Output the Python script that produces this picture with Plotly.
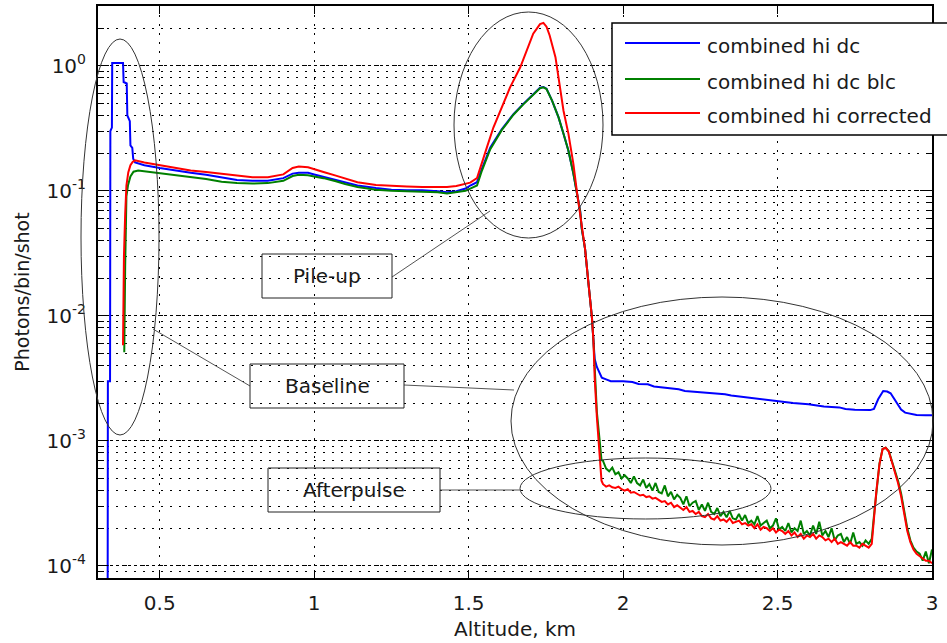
import plotly.graph_objects as go

# ---------------- data ----------------
blue_x = [0.331, 0.332, 0.339, 0.340, 0.345, 0.346, 0.381, 0.383, 0.393, 0.395, 0.403, 0.405,
          0.411, 0.414, 0.42, 0.45, 0.5, 0.55, 0.6, 0.65, 0.7, 0.75, 0.8, 0.85, 0.9, 0.93, 0.95,
          0.98, 1.0, 1.03, 1.07, 1.1, 1.14, 1.2, 1.25, 1.3, 1.35, 1.4, 1.43, 1.46, 1.49, 1.505,
          1.527, 1.543, 1.57, 1.607, 1.645, 1.677, 1.709, 1.731, 1.742, 1.752, 1.77, 1.791, 1.807,
          1.823, 1.839, 1.85, 1.861, 1.866, 1.877, 1.888, 1.899, 1.904, 1.908, 1.915, 1.922, 1.931,
          1.945, 1.96, 2.0, 2.03, 2.05, 2.08, 2.1, 2.15, 2.18, 2.2, 2.25, 2.3, 2.33, 2.35, 2.4, 2.45,
          2.48, 2.5, 2.55, 2.6, 2.62, 2.65, 2.7, 2.72, 2.75, 2.8, 2.812, 2.826, 2.842, 2.855, 2.866,
          2.886, 2.9, 2.913, 2.95, 2.98, 3.0]
blue_y = [1e-5, 3.0e-3, 3.0e-3, 0.30, 0.32, 1.05, 1.05, 0.74, 0.72, 0.40, 0.36, 0.23,
          0.22, 0.18, 0.168, 0.16, 0.152, 0.145, 0.139, 0.134, 0.127, 0.122, 0.12, 0.12, 0.126,
          0.137, 0.139, 0.139, 0.135, 0.129, 0.122, 0.116, 0.11, 0.105, 0.102, 0.101, 0.101, 0.099,
          0.097, 0.099, 0.104, 0.11, 0.117, 0.15, 0.222, 0.31, 0.41, 0.495, 0.59, 0.667, 0.675,
          0.655, 0.525, 0.386, 0.285, 0.209, 0.137, 0.1, 0.069, 0.05, 0.034, 0.018, 0.0097, 0.0063,
          0.0045, 0.0039, 0.0036, 0.0032, 0.0031, 0.003, 0.003, 0.00295, 0.00285, 0.00283, 0.00272,
          0.00262, 0.00258, 0.0025, 0.00245, 0.00238, 0.00236, 0.0023, 0.00222, 0.00214, 0.00212,
          0.00208, 0.00201, 0.00196, 0.00192, 0.00188, 0.00185, 0.00180, 0.00177, 0.00176, 0.0018,
          0.00216, 0.0025, 0.00248, 0.0024, 0.002, 0.00178, 0.00168, 0.00161, 0.0016, 0.0016]

red_x = [0.381, 0.382, 0.384, 0.388, 0.392, 0.398, 0.405, 0.412, 0.42, 0.45, 0.5, 0.55, 0.6,
         0.65, 0.7, 0.75, 0.8, 0.85, 0.9, 0.93, 0.95, 0.98, 1.0, 1.03, 1.07, 1.1, 1.14, 1.2, 1.25,
         1.3, 1.35, 1.4, 1.43, 1.46, 1.49, 1.505, 1.527, 1.543, 1.559, 1.58, 1.612, 1.634, 1.667,
         1.688, 1.709, 1.731, 1.742, 1.752, 1.762, 1.781, 1.791, 1.807, 1.823, 1.839, 1.85, 1.861,
         1.866, 1.877, 1.888, 1.899, 1.904, 1.908, 1.915, 1.926, 1.93,
         1.935, 1.945, 1.955, 1.965, 1.975, 1.985, 1.995, 2.005, 2.015, 2.025, 2.035, 2.045,
         2.055, 2.065, 2.075, 2.085, 2.095, 2.105, 2.115, 2.125, 2.135, 2.145, 2.155, 2.165,
         2.175, 2.185, 2.195, 2.205, 2.215, 2.225, 2.235, 2.245, 2.255, 2.265, 2.275, 2.285,
         2.295, 2.305, 2.315, 2.325, 2.335, 2.345, 2.355, 2.365, 2.375, 2.385, 2.395, 2.405,
         2.415, 2.425, 2.435, 2.445, 2.455, 2.465, 2.475, 2.485, 2.495, 2.505, 2.515, 2.525,
         2.535, 2.545, 2.555, 2.565, 2.575, 2.585, 2.595, 2.605, 2.615, 2.625, 2.635, 2.645,
         2.655, 2.665, 2.675, 2.685, 2.695, 2.705, 2.715, 2.725, 2.735, 2.745, 2.755, 2.765,
         2.775, 2.785, 2.795, 2.805, 2.812, 2.82, 2.83, 2.84, 2.85, 2.86, 2.87, 2.88, 2.89, 2.9,
         2.91, 2.92, 2.93, 2.94, 2.95, 2.96, 2.97, 2.98, 2.99, 3.0]
red_y = [0.0058, 0.012, 0.03, 0.065, 0.11, 0.14, 0.16, 0.17, 0.175, 0.168, 0.16, 0.152, 0.145,
         0.141, 0.137, 0.132, 0.128, 0.128, 0.135, 0.152, 0.156, 0.154, 0.148, 0.141, 0.132, 0.125,
         0.117, 0.111, 0.109, 0.108, 0.107, 0.107, 0.107, 0.109, 0.113, 0.116, 0.126, 0.164, 0.222,
         0.32, 0.495, 0.67, 0.97, 1.32, 1.8, 2.15, 2.2, 2.05, 1.75, 1.17, 0.81, 0.436, 0.285, 0.164,
         0.1, 0.065, 0.05, 0.034, 0.018, 0.0097, 0.0063, 0.0032, 0.00155, 0.00074, 0.00048,
         4.5e-4, 4.3e-4, 4.4e-4, 4.25e-4, 4.2e-4, 4.3e-4, 4.1e-4, 4.0e-4, 4.1e-4, 3.85e-4, 3.9e-4,
         3.75e-4, 3.65e-4, 3.7e-4, 3.55e-4, 3.6e-4, 3.45e-4, 3.5e-4, 3.35e-4, 3.25e-4, 3.3e-4,
         3.1e-4, 3.2e-4, 2.95e-4, 3.05e-4, 2.9e-4, 2.8e-4, 2.95e-4, 2.7e-4, 2.75e-4, 2.6e-4,
         2.7e-4, 2.5e-4, 2.45e-4, 2.6e-4, 2.4e-4, 2.35e-4, 2.5e-4, 2.3e-4, 2.35e-4, 2.25e-4,
         2.4e-4, 2.2e-4, 2.25e-4, 2.3e-4, 2.15e-4, 2.2e-4, 2.1e-4, 2.15e-4, 2.0e-4, 2.15e-4,
         1.95e-4, 2.05e-4, 2.0e-4, 1.9e-4, 2.0e-4, 1.85e-4, 1.95e-4, 1.9e-4, 1.8e-4, 1.9e-4,
         1.75e-4, 1.85e-4, 1.7e-4, 1.8e-4, 1.65e-4, 1.75e-4, 1.7e-4, 1.8e-4, 1.65e-4, 1.75e-4,
         1.7e-4, 1.6e-4, 1.65e-4, 1.55e-4, 1.65e-4, 1.5e-4, 1.55e-4, 1.5e-4, 1.45e-4, 1.55e-4,
         1.45e-4, 1.45e-4, 1.4e-4, 1.5e-4, 1.45e-4, 1.4e-4, 1.5e-4, 2.4e-4, 4.0e-4, 6.5e-4,
         8.6e-4, 8.8e-4, 8.2e-4, 6.8e-4, 5.6e-4, 4.6e-4, 3.6e-4, 2.7e-4, 1.9e-4, 1.55e-4,
         1.35e-4, 1.25e-4, 1.2e-4, 1.15e-4, 1.1e-4, 1.1e-4, 1.05e-4]

green_x = [0.385, 0.386, 0.388, 0.392, 0.397, 0.405, 0.415, 0.43, 0.5, 0.55, 0.6, 0.65, 0.7,
           0.75, 0.8, 0.85, 0.9, 0.93, 0.95, 0.98, 1.0, 1.03, 1.07, 1.1, 1.14, 1.2, 1.25, 1.3,
           1.35, 1.4, 1.43, 1.46, 1.49, 1.505, 1.527, 1.543, 1.57, 1.607, 1.645, 1.677, 1.709,
           1.731, 1.742, 1.752, 1.77, 1.791, 1.807, 1.823, 1.839, 1.85, 1.861, 1.866, 1.877,
           1.888, 1.899, 1.904, 1.908, 1.915, 1.926, 1.93,
           1.935, 1.945, 1.955, 1.965, 1.975, 1.985, 1.995, 2.005, 2.015, 2.025, 2.035, 2.045,
           2.055, 2.065, 2.075, 2.085, 2.095, 2.105, 2.115, 2.125, 2.135, 2.145, 2.155, 2.165,
           2.175, 2.185, 2.195, 2.205, 2.215, 2.225, 2.235, 2.245, 2.255, 2.265, 2.275, 2.285,
           2.295, 2.305, 2.315, 2.325, 2.335, 2.345, 2.355, 2.365, 2.375, 2.385, 2.395, 2.405,
           2.415, 2.425, 2.435, 2.445, 2.455, 2.465, 2.475, 2.485, 2.495, 2.505, 2.515, 2.525,
           2.535, 2.545, 2.555, 2.565, 2.575, 2.585, 2.595, 2.605, 2.615, 2.625, 2.635, 2.645,
           2.655, 2.665, 2.675, 2.685, 2.695, 2.705, 2.715, 2.725, 2.735, 2.745, 2.755, 2.765,
           2.775, 2.785, 2.795, 2.805, 2.812, 2.82, 2.83, 2.84, 2.85, 2.86, 2.87, 2.88, 2.89, 2.9,
           2.91, 2.92, 2.93, 2.94, 2.95, 2.96, 2.97, 2.98, 2.99, 3.0]
green_y = [0.0051, 0.01, 0.025, 0.09, 0.11, 0.13, 0.142, 0.145, 0.138, 0.134, 0.128, 0.124,
           0.118, 0.115, 0.114, 0.115, 0.12, 0.131, 0.134, 0.133, 0.13, 0.126, 0.119, 0.113,
           0.107, 0.102, 0.1, 0.099, 0.098, 0.097, 0.095, 0.097, 0.1, 0.104, 0.11, 0.145, 0.215,
           0.305, 0.405, 0.49, 0.585, 0.66, 0.67, 0.65, 0.525, 0.386, 0.285, 0.209, 0.137, 0.1,
           0.068, 0.05, 0.034, 0.018, 0.0097, 0.0063, 0.0035, 0.0017, 0.0009, 0.0007,
           6.9e-4, 6.0e-4, 5.7e-4, 6.1e-4, 5.4e-4, 5.6e-4, 5.0e-4, 5.3e-4, 5.0e-4, 4.6e-4, 5.2e-4,
           4.6e-4, 4.4e-4, 4.9e-4, 4.2e-4, 4.5e-4, 4.0e-4, 4.6e-4, 3.9e-4, 3.8e-4, 4.4e-4, 3.6e-4,
           3.9e-4, 3.4e-4, 3.7e-4, 3.5e-4, 3.1e-4, 3.6e-4, 3.0e-4, 3.2e-4, 3.3e-4, 2.8e-4,
           3.1e-4, 2.75e-4, 3.2e-4, 2.7e-4, 2.6e-4, 2.9e-4, 2.5e-4, 2.7e-4, 2.45e-4, 2.75e-4,
           2.4e-4, 2.35e-4, 2.6e-4, 2.3e-4, 2.55e-4, 2.2e-4, 2.3e-4, 2.15e-4, 2.5e-4, 2.1e-4,
           2.2e-4, 2.3e-4, 2.0e-4, 2.1e-4, 2.4e-4, 1.95e-4, 2.05e-4, 1.9e-4, 2.2e-4, 1.85e-4,
           2.0e-4, 1.9e-4, 2.3e-4, 1.8e-4, 1.9e-4, 1.75e-4, 2.1e-4, 1.8e-4, 2.25e-4, 1.75e-4,
           1.9e-4, 1.7e-4, 2.0e-4, 1.6e-4, 1.75e-4, 1.8e-4, 1.55e-4, 1.7e-4, 1.5e-4, 1.85e-4,
           1.5e-4, 1.55e-4, 1.45e-4, 1.6e-4, 1.5e-4, 1.65e-4, 2.5e-4, 4.1e-4, 6.6e-4, 8.6e-4,
           8.8e-4, 8.3e-4, 7.0e-4, 5.8e-4, 4.8e-4, 3.8e-4, 2.8e-4, 2.0e-4, 1.6e-4, 1.4e-4,
           1.3e-4, 1.25e-4, 1.1e-4, 1.3e-4, 1.05e-4, 1.35e-4]

series_names = ["combined hi dc", "combined hi dc blc", "combined hi corrected"]
series_colors = ["#0000ff", "#008000", "#ff0000"]

x_ticks = [0.5, 1, 1.5, 2, 2.5, 3]
x_tick_text = ["0.5", "1", "1.5", "2", "2.5", "3"]
y_ticks = [1e-4, 1e-3, 1e-2, 1e-1, 1]
y_tick_text = ["10<sup>-4</sup>", "10<sup>-3</sup>", "10<sup>-2</sup>", "10<sup>-1</sup>", "10<sup>0</sup>"]

# ---------------- layout helpers (pixel -> paper) ----------------
W, H = 947, 643
ML, MR, MT, MB = 98, 15, 6, 65
PW, PH = W - ML - MR, H - MT - MB


def X(px):
    return (px - ML) / PW


def Y(py):
    return (H - MB - py) / PH


FONT = "DejaVu Sans"
FS = 20
TXT = "#1a1a1a"

fig = go.Figure()
for xs, ys, name, col in [(blue_x, blue_y, series_names[0], series_colors[0]),
                          (green_x, green_y, series_names[1], series_colors[1]),
                          (red_x, red_y, series_names[2], series_colors[2])]:
    fig.add_trace(go.Scatter(x=xs, y=ys, mode="lines", name=name,
                             line=dict(color=col, width=2), showlegend=False))

shapes = []
annotations = []

# ellipses
for (x0, y0, x1, y1) in [(81, 39, 159, 435), (454, 12, 603, 238),
                         (511, 297, 933, 545), (520, 458, 771, 519)]:
    shapes.append(dict(type="circle", xref="paper", yref="paper",
                       x0=X(x0), x1=X(x1), y0=Y(y1), y1=Y(y0),
                       line=dict(color="#333333", width=1)))

# connector lines
for (x0, y0, x1, y1) in [(392, 277, 490, 211), (250, 386, 153, 329),
                         (404, 385, 514, 390), (440, 490, 521, 490)]:
    shapes.append(dict(type="line", xref="paper", yref="paper",
                       x0=X(x0), x1=X(x1), y0=Y(y0), y1=Y(y1),
                       line=dict(color="#555555", width=1)))

# text boxes
for (x0, y0, x1, y1, label) in [(262, 254, 392, 298, "Pile-up"),
                                (250, 364, 404, 408, "Baseline"),
                                (268, 468, 440, 512, "Afterpulse")]:
    shapes.append(dict(type="rect", xref="paper", yref="paper",
                       x0=X(x0), x1=X(x1), y0=Y(y1), y1=Y(y0),
                       line=dict(color="#222222", width=1)))
    annotations.append(dict(xref="paper", yref="paper", x=X((x0 + x1) / 2), y=Y((y0 + y1) / 2),
                            text=label, showarrow=False, xanchor="center", yanchor="middle",
                            font=dict(family=FONT, size=FS, color=TXT)))

# manual legend (MATLAB style, long line samples)
shapes.append(dict(type="rect", xref="paper", yref="paper",
                   x0=X(612), x1=X(952), y0=Y(135), y1=Y(23),
                   line=dict(color="#000000", width=1.5), fillcolor="white"))
for i, (name, col) in enumerate(zip(series_names, series_colors)):
    ly = [43, 79, 113][i]
    shapes.append(dict(type="line", xref="paper", yref="paper",
                       x0=X(625), x1=X(700), y0=Y(ly), y1=Y(ly),
                       line=dict(color=col, width=2)))
    annotations.append(dict(xref="paper", yref="paper", x=X(705), y=Y(ly + 3),
                            text=name, showarrow=False, xanchor="left", yanchor="middle",
                            font=dict(family=FONT, size=FS, color=TXT)))

fig.update_layout(
    width=W, height=H,
    margin=dict(l=ML, r=MR, t=MT, b=MB),
    paper_bgcolor="white", plot_bgcolor="white",
    font=dict(family=FONT, size=FS, color=TXT),
    shapes=shapes, annotations=annotations,
    showlegend=False,
)
fig.update_xaxes(
    range=[0.3, 3.0], tickvals=x_ticks, ticktext=x_tick_text,
    title=dict(text="Altitude, km", standoff=8, font=dict(family=FONT, size=FS, color=TXT)),
    automargin=False,
    showline=True, linecolor="black", linewidth=2, mirror="allticks",
    ticks="inside", ticklen=8, tickcolor="black", tickwidth=1,
    ticklabelstandoff=6,
    showgrid=True, gridcolor="black", gridwidth=1, griddash="2px,7px",
    zeroline=False, tickfont=dict(family=FONT, size=FS, color=TXT),
)
fig.update_yaxes(
    type="log", range=[-4.097, 0.477], tickvals=y_ticks, ticktext=y_tick_text,
    title=dict(text="Photons/bin/shot", standoff=12, font=dict(family=FONT, size=FS - 1, color=TXT)),
    automargin=False,
    showline=True, linecolor="black", linewidth=2, mirror="allticks",
    ticks="inside", ticklen=10, tickcolor="black", tickwidth=1,
    ticklabelstandoff=6,
    showgrid=True, gridcolor="black", gridwidth=1, griddash="3px,3px",
    minor=dict(dtick="D1", ticks="inside", ticklen=6, tickcolor="black",
               showgrid=True, gridcolor="black", gridwidth=1, griddash="2px,7px"),
    zeroline=False, tickfont=dict(family=FONT, size=FS, color=TXT),
)

fig.write_html("out.html")
